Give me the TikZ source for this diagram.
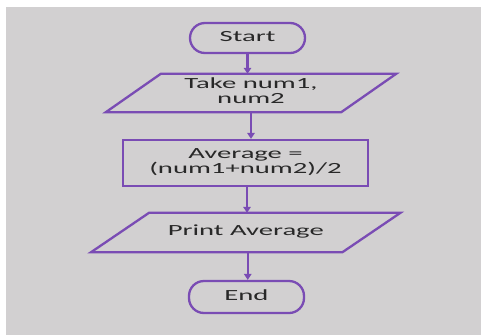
\documentclass[tikz,border=0pt]{standalone}
\usepackage{fontspec}
\usepackage{graphicx}
\setmainfont{Carlito}
\usetikzlibrary{arrows.meta}
\definecolor{bggray}{RGB}{210,208,209}
\definecolor{fcpurple}{RGB}{122,76,180}
\definecolor{txtgray}{RGB}{40,40,40}
\newcommand\widetext[1]{\scalebox{1.85}[1]{\begin{tabular}{@{}c@{}}#1\end{tabular}}}
\tikzset{
  fcline/.style={draw=fcpurple, line width=2.3pt},
  fctext/.style={text=txtgray, font=\fontsize{15.5}{16}\selectfont, inner sep=0pt},
  terminal/.style={fcline, fctext, rounded corners=15pt},
  procbox/.style={fcline, fctext},
  iobox/.style={fctext},
  flowarrow/.style={draw=fcpurple, line width=2.3pt, -{Triangle[length=6pt,width=7.5pt]}},
}
\begin{document}
\begin{tikzpicture}[x=1pt,y=-1pt]
\useasboundingbox (0,0) rectangle (487,335);
\fill[white] (0,0) rectangle (487,335);
\fill[bggray] (6,7) rectangle (481,335);
% terminals
\node[terminal, minimum width=115pt, minimum height=30pt] (start) at (247.5,38) {\widetext{Start}};
\node[terminal, minimum width=115pt, minimum height=32pt] (end) at (246.5,297) {\widetext{End}};
% input parallelogram
\node[iobox, minimum width=235pt, minimum height=38pt] (take) at (251,93) {\widetext{Take num1,\\[-1pt] num2}};
\draw[fcline] ([xshift=27.5pt]take.north west) -- ([xshift=27.5pt]take.north east)
  -- ([xshift=-27.5pt]take.south east) -- ([xshift=-27.5pt]take.south west) -- cycle;
% process
\node[procbox, minimum width=245pt, minimum height=46pt] (avg) at (245.5,163) {\widetext{Average =\\[-1pt] (num1+num2)/2}};
% output parallelogram
\node[iobox, minimum width=251pt, minimum height=39pt] (print) at (245.75,232.5) {\widetext{Print Average}};
\draw[fcline] ([xshift=29pt]print.north west) -- ([xshift=29pt]print.north east)
  -- ([xshift=-29pt]print.south east) -- ([xshift=-29pt]print.south west) -- cycle;
% connectors
\draw[flowarrow] (start.south) -- (start.south |- take.north);
\draw[flowarrow] (take.south) -- (take.south |- avg.north);
\draw[flowarrow] ([xshift=1.5pt]avg.south) -- ([xshift=1.5pt]avg.south |- print.north);
\draw[flowarrow] ([xshift=2pt]print.south) -- ([xshift=2pt]print.south |- end.north);
\end{tikzpicture}
\end{document}
